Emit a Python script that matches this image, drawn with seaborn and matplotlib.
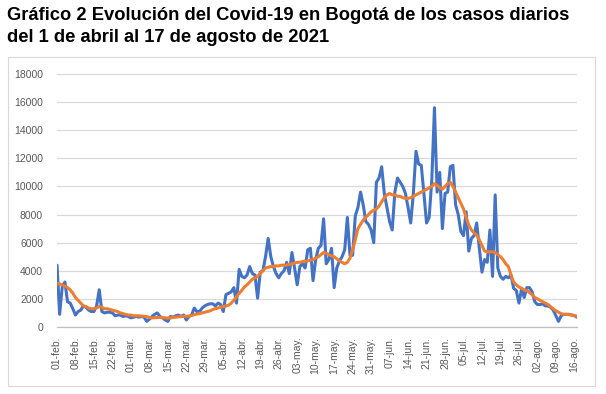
import numpy as np
import pandas as pd
import seaborn as sns
import matplotlib.pyplot as plt
from matplotlib.patches import Rectangle

# casos diarios desde el 01-feb-2021 (una fila por semana)
casos = [
    4400, 900, 2900, 3200, 1800, 1700, 1300,
    850, 1100, 1200, 1500, 1400, 1200, 1100,
    1100, 1500, 2650, 1100, 1000, 1050, 1050,
    1000, 800, 850, 850, 750, 800, 750,
    650, 700, 750, 700, 750, 700, 400,
    550, 750, 900, 1000, 750, 650, 500,
    400, 750, 700, 800, 850, 750, 850,
    500, 750, 850, 1350, 1100, 1100, 1350,
    1500, 1600, 1650, 1650, 1500, 1700, 1600,
    1100, 2300, 2400, 2500, 2800, 1700, 4100,
    3600, 3500, 3700, 4300, 3800, 3700, 2050,
    3900, 4000, 5000, 6300, 5000, 4300, 3800,
    3500, 3800, 4000, 4600, 3800, 5300, 4200,
    3000, 4300, 4500, 4200, 5500, 5600, 3300,
    4800, 5600, 5800, 7700, 4500, 4800, 5600,
    2800, 4200, 4700, 5000, 5500, 7800, 5100,
    5100, 7900, 8500, 9600, 8700, 7500, 7300,
    6900, 6000, 10300, 10600, 11400, 9500, 8500,
    7500, 6900, 9600, 10600, 10300, 10000, 9500,
    8500, 7400, 9500, 12500, 11600, 11500, 9500,
    7400, 7800, 10500, 15600, 9600, 11000, 7000,
    9500, 9600, 11400, 11500, 8700, 8000, 6800,
    6500, 8200, 5400, 6300, 6500, 7400, 5600,
    3900, 4800, 4600, 6900, 3600, 9400, 4200,
    3600, 3400, 3600, 3500, 3700, 2750, 2600,
    1700, 2700, 2100, 2800, 2800, 2500, 1800,
    1600, 1600, 1650, 1500, 1500, 1400, 1200,
    800, 400, 800, 900, 900, 900, 850,
    800, 700,
]

promedio = [
    3100, 3050, 3000, 2900, 2800, 2650, 2400,
    2100, 1900, 1700, 1500, 1450, 1350, 1300,
    1300, 1350, 1450, 1400, 1300, 1300, 1250,
    1200, 1150, 1100, 1000, 950, 900, 850,
    850, 800, 800, 800, 780, 760, 740,
    680, 650, 660, 680, 680, 670, 650,
    640, 650, 680, 700, 720, 740, 760,
    760, 780, 820, 880, 920, 950, 1000,
    1050, 1100, 1150, 1250, 1300, 1350, 1400,
    1450, 1500, 1550, 1700, 1900, 2150, 2400,
    2600, 2850, 3000, 3200, 3400, 3500, 3600,
    3800, 4000, 4200, 4250, 4300, 4300, 4350,
    4350, 4400, 4400, 4400, 4450, 4500, 4550,
    4600, 4600, 4650, 4700, 4700, 4750, 4800,
    4900, 5000, 5150, 5300, 5250, 5150, 5050,
    5000, 4850, 4700, 4600, 4500, 4600, 4900,
    5500, 6200, 7000, 7300, 7600, 7800, 8000,
    8200, 8300, 8400, 8600, 8900, 9200, 9400,
    9500, 9400, 9400, 9300, 9300, 9200, 9150,
    9150, 9200, 9300, 9400, 9500, 9600, 9700,
    9800, 9900, 10000, 10200, 10100, 9900, 9800,
    10000, 10200, 10300, 10000, 9600, 9200, 8800,
    8400, 7800, 7250, 6900, 6700, 6550, 6200,
    5800, 5400, 5350, 5350, 5350, 5300, 5150,
    5000, 4800, 4500, 4300, 3700, 3200, 3000,
    2850, 2750, 2650, 2600, 2450, 2300, 2100,
    2000, 1900, 1800, 1700, 1600, 1450, 1300,
    1150, 1050, 950, 900, 900, 880, 850,
    820, 780,
]

meses = ['ene', 'feb', 'mar', 'abr', 'may', 'jun',
         'jul', 'ago', 'sep', 'oct', 'nov', 'dic']
fechas = pd.date_range('2021-02-01', periods=len(casos), freq='D')

titulo = ['Gráfico 2 Evolución del Covid-19 en Bogotá de los casos diarios',
          'del 1 de abril al 17 de agosto de 2021']

df = pd.DataFrame({'dia': np.arange(len(casos)), 'casos': casos, 'promedio': promedio})

sns.set_style('white')
plt.rcParams['font.family'] = ['Liberation Sans', 'DejaVu Sans']

fig = plt.figure(figsize=(6.06, 3.94), dpi=100)
ax = fig.add_axes([57 / 606, 67 / 394, 520 / 606, 253 / 394])

sns.lineplot(data=df, x='dia', y='casos', ax=ax, color='#4472C4', linewidth=2.2)
sns.lineplot(data=df, x='dia', y='promedio', ax=ax, color='#ED7D31', linewidth=2.2)

ax.set_ylim(0, 18000)
ax.set_xlim(0, len(casos) - 1)
ax.set_yticks(range(0, 18001, 2000))
ax.yaxis.grid(True, color='#d9d9d9', linewidth=0.9)
ax.set_axisbelow(True)

ticks = list(range(0, len(casos), 7))
etiquetas = [f'{fechas[i].day:02d}-{meses[fechas[i].month - 1]}.' for i in ticks]
ax.set_xticks(ticks)
ax.set_xticklabels(etiquetas, rotation=90)
ax.tick_params(axis='x', length=4, color='#bfbfbf', labelsize=7.5, labelcolor='#595959', pad=3)
ax.tick_params(axis='y', length=0, labelsize=7.5, labelcolor='#595959', pad=10)
ax.set_xlabel('')
ax.set_ylabel('')

for s in ['top', 'right', 'left']:
    ax.spines[s].set_visible(False)
ax.spines['bottom'].set_color('#bfbfbf')
ax.spines['bottom'].set_linewidth(0.9)

fig.patches.append(Rectangle((8 / 606, 8 / 394), 587 / 606, 329 / 394, transform=fig.transFigure,
                             fill=False, edgecolor='#d9d9d9', linewidth=0.8))

fig.text(7 / 606, 1 - 19.5 / 394, titulo[0], fontsize=13.2, fontweight='bold',
         color='black', va='baseline', ha='left')
fig.text(7 / 606, 1 - 41.5 / 394, titulo[1], fontsize=13.2, fontweight='bold',
         color='black', va='baseline', ha='left')

fig.savefig('out.png', dpi=100)
